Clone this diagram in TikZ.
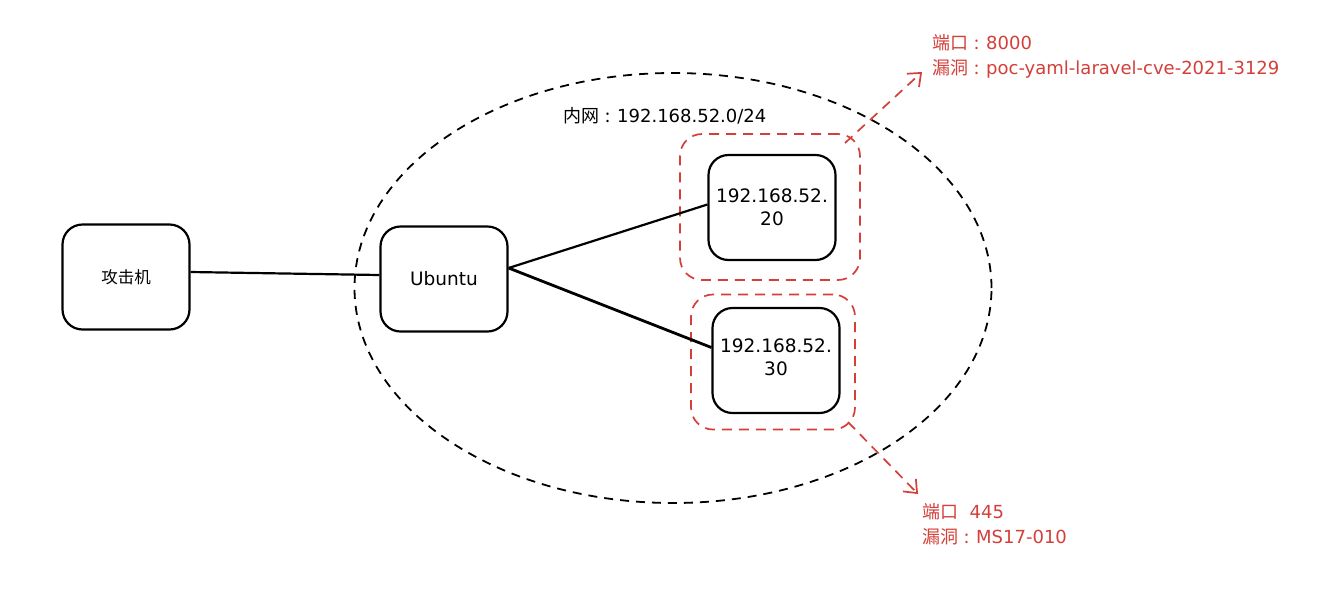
\documentclass[tikz,border=0pt]{standalone}
\usepackage{fontspec}
\setmainfont{DejaVu Sans}
\newfontfamily\cjk{Noto Sans CJK SC}
\newcommand\fcolon{\makebox[1em]{:}}
\usetikzlibrary{arrows.meta,shapes.geometric}
\definecolor{redx}{HTML}{D43F3A}
\begin{document}
\begin{tikzpicture}[x=1pt,y=-1pt,
  box/.style={draw=black,line width=2.2pt,rounded corners=20pt,minimum width=127pt,minimum height=105pt,inner sep=0pt,align=center,font=\fontsize{18.5}{23}\selectfont},
  redbox/.style={draw=redx,line width=1.7pt,dash pattern=on 10pt off 7pt,rounded corners=22pt},
  link/.style={draw=black,line width=2.2pt},
  redarrow/.style={draw=redx,line width=1.7pt,dash pattern=on 10pt off 7pt,-{Straight Barb[length=11pt,width=18pt,line width=1.7pt]}},
  redtext/.style={text=redx,align=left,anchor=north west,inner sep=0pt,font=\fontsize{18}{25}\selectfont}]
\useasboundingbox (0,0) rectangle (1320,590);
\fill[white] (0,0) rectangle (1320,590);
% network ellipse
\node[draw=black,line width=1.8pt,dash pattern=on 9pt off 7pt,ellipse,minimum width=637pt,minimum height=430pt,inner sep=0pt] (net) at (673,288) {};
\node[anchor=west,inner sep=0pt,font=\fontsize{18}{20}\selectfont] (netlabel) at (563,116) {{\cjk\fontsize{18}{20}\selectfont 内网\fcolon}192.168.52.0/24};
% red dashed groups
\node[redbox,minimum width=180pt,minimum height=146pt] (g20) at (770,207) {};
\node[redbox,minimum width=164pt,minimum height=135pt] (g30) at (773,362) {};
% boxes
\node[box] (atk) at (126,277) {{\cjk\fontsize{16.5}{20}\selectfont 攻击机}};
\node[box] (ub) at (444,279) {Ubuntu};
\node[box] (h20) at (772,207.5) {192.168.52.\\20};
\node[box] (h30) at (776,360.5) {};
\node[align=center,inner sep=0pt,font=\fontsize{18.5}{23}\selectfont] (h30t) at (776,357) {192.168.52.\\30};
% links
\draw[link] ([yshift=5pt]atk.east) -- ([yshift=4pt]ub.west);
\coordinate (u1) at ([yshift=11pt]ub.east);
\draw[link] (u1) -- ([yshift=3pt]h20.west);
\draw[link,line width=2.8pt] (u1) -- ([yshift=13pt]h30.west);
% arrows
\coordinate (s1) at (845,143);
\coordinate (s2) at (848,422);
\coordinate (t1) at (922,72);
\coordinate (t2) at (918,494);
\draw[redarrow] (s1) -- (t1);
\draw[redarrow] (s2) -- (t2);
% annotations
\node[redtext] (ann1) at (932,34) {{\cjk\fontsize{18}{25}\selectfont 端口\fcolon}8000\\{\cjk\fontsize{18}{25}\selectfont 漏洞\fcolon}poc-yaml-laravel-cve-2021-3129};
\node[redtext] (ann2) at (922,503) {{\cjk\fontsize{18}{25}\selectfont 端口}\ \ 445\\{\cjk\fontsize{18}{25}\selectfont 漏洞\fcolon}MS17-010};
\end{tikzpicture}
\end{document}
